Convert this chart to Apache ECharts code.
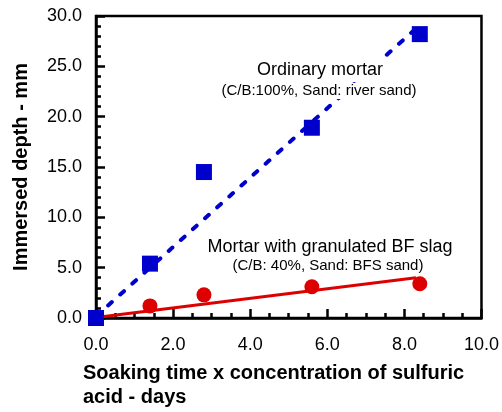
<!DOCTYPE html>
<html>
<head>
<meta charset="utf-8">
<script src="https://cdn.jsdelivr.net/npm/echarts@6/dist/echarts.min.js"></script>
<style>
html,body{margin:0;padding:0;background:#fff;}
#chart{width:502px;height:412px;}
</style>
</head>
<body>
<div id="chart"></div>
<script>
var ordinaryX = [0.0, 1.4, 2.8, 5.6, 8.4];
var ordinaryY = [0.0, 5.4, 14.5, 18.9, 28.2];
var slagX = [0.0, 1.4, 2.8, 5.6, 8.4];
var slagY = [0.0, 1.2, 2.3, 3.1, 3.4];
var ordinaryFit = [[0.0, 0.17], [8.4, 29.1]];
var slagFit = [[0.0, 0.05], [8.3, 4.0]];
var xTicks = [0, 2, 4, 6, 8, 10];
var yTicks = [0, 5, 10, 15, 20, 25, 30];

var FONT = '"Liberation Sans", Arial, sans-serif';
var BLUE = '#0000CC';
var RED = '#DD0000';

function pairs(xs, ys) { return xs.map(function (x, i) { return [x, ys[i]]; }); }

var chart = echarts.init(document.getElementById('chart'), null, {renderer: 'canvas'});

var axisCommon = {
  axisLine: {show: true, onZero: false, lineStyle: {color: '#000', width: 2.5}},
  axisTick: {show: true, inside: true, length: 9, lineStyle: {color: '#000', width: 2.5}},
  minorTick: {show: true, length: 5, lineStyle: {color: '#000', width: 2.5}},
  splitLine: {show: false},
  axisLabel: {color: '#000', fontSize: 18, fontFamily: FONT,
    formatter: function (v) { return v.toFixed(1); }}
};

chart.setOption({
  animation: false,
  backgroundColor: '#fff',
  grid: {left: 96, right: 20.5, top: 16, bottom: 94, show: true,
    borderColor: '#000', borderWidth: 2.5, backgroundColor: 'transparent'},
  xAxis: Object.assign({}, axisCommon, {
    type: 'value', min: xTicks[0], max: xTicks[xTicks.length - 1], interval: 2,
    minorTick: Object.assign({}, axisCommon.minorTick, {splitNumber: 4}),
    axisLabel: Object.assign({}, axisCommon.axisLabel, {margin: 18, showMaxLabel: true})
  }),
  yAxis: Object.assign({}, axisCommon, {
    type: 'value', min: yTicks[0], max: yTicks[yTicks.length - 1], interval: 5,
    minorTick: Object.assign({}, axisCommon.minorTick, {splitNumber: 5}),
    axisLabel: Object.assign({}, axisCommon.axisLabel, {margin: 14})
  }),
  series: [
    {type: 'line', data: slagFit, symbol: 'none', silent: true,
      lineStyle: {color: RED, width: 3}, z: 2},
    {type: 'line', data: ordinaryFit, symbol: 'none', silent: true,
      lineStyle: {color: BLUE, width: 4, type: [5, 11.3], cap: 'round'}, z: 2},
    {type: 'scatter', data: pairs(slagX, slagY), symbol: 'circle', symbolSize: 15,
      itemStyle: {color: RED, opacity: 1}, clip: false, z: 3},
    {type: 'scatter', data: pairs(ordinaryX, ordinaryY), symbol: 'rect', symbolSize: 16,
      itemStyle: {color: BLUE, opacity: 1}, clip: false, z: 4}
  ],
  graphic: [
    {type: 'text', x: 320, y: 70, z: 100, style: {text: 'Ordinary mortar', font: '18px ' + FONT,
      fill: '#000', align: 'center', verticalAlign: 'middle', backgroundColor: '#fff', padding: [3, 4, 1, 4]}},
    {type: 'text', x: 319, y: 91, z: 100, style: {text: '(C/B:100%, Sand: river sand)', font: '15px ' + FONT,
      fill: '#000', align: 'center', verticalAlign: 'middle', backgroundColor: '#fff', padding: [1, 3, 0, 3]}},
    {type: 'text', x: 330, y: 247, z: 100, style: {text: 'Mortar with granulated BF slag', font: '18px ' + FONT,
      fill: '#000', align: 'center', verticalAlign: 'middle'}},
    {type: 'text', x: 328, y: 266, z: 100, style: {text: '(C/B: 40%, Sand: BFS sand)', font: '15px ' + FONT,
      fill: '#000', align: 'center', verticalAlign: 'middle'}},
    {type: 'text', x: 83, y: 373, z: 100, style: {text: 'Soaking time x concentration of sulfuric',
      font: 'bold 20px ' + FONT, fill: '#000', align: 'left', verticalAlign: 'middle'}},
    {type: 'text', x: 83, y: 397, z: 100, style: {text: 'acid - days',
      font: 'bold 20px ' + FONT, fill: '#000', align: 'left', verticalAlign: 'middle'}},
    {type: 'text', x: 21, y: 167, z: 100, rotation: Math.PI / 2, style: {text: 'Immersed depth - mm',
      font: 'bold 20px ' + FONT, fill: '#000', align: 'center', verticalAlign: 'middle'}}
  ]
});
</script>
</body>
</html>
